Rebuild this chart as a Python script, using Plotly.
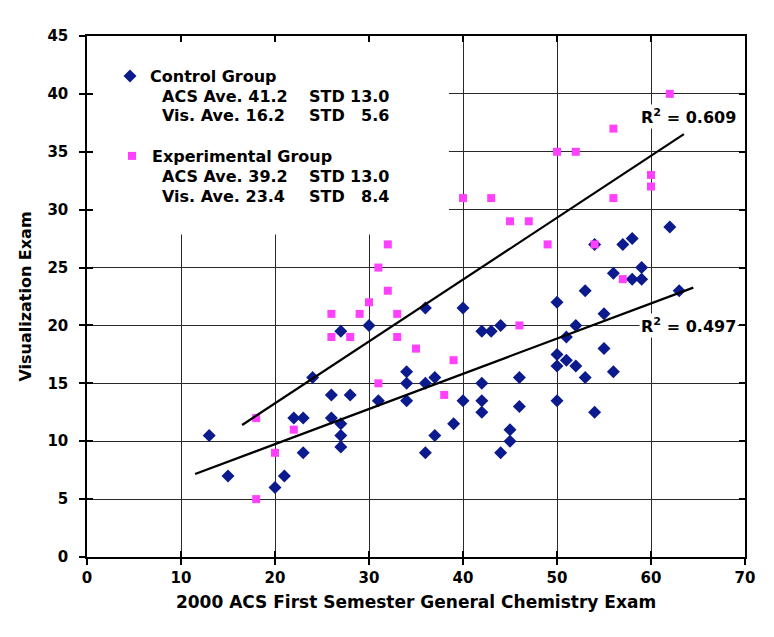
import numpy as np
import plotly.graph_objects as go

# ---------------- data ----------------
control_x = [13, 15, 20, 21, 22, 23, 23, 24, 26, 26, 27, 27, 27, 27, 28, 30, 31,
             34, 34, 34, 36, 36, 36, 37, 37, 39, 40, 40, 42, 42, 42, 42, 43, 44,
             44, 45, 45, 46, 46, 50, 50, 50, 50, 51, 51, 52, 52, 53, 53, 54, 54,
             55, 55, 56, 56, 57, 58, 58, 59, 59, 62, 63]
control_y = [10.5, 7, 6, 7, 12, 12, 9, 15.5, 14, 12, 19.5, 11.5, 10.5, 9.5, 14, 20, 13.5,
             16, 15, 13.5, 21.5, 15, 9, 15.5, 10.5, 11.5, 21.5, 13.5, 19.5, 15, 13.5, 12.5, 19.5, 20,
             9, 11, 10, 15.5, 13, 22, 17.5, 16.5, 13.5, 19, 17, 20, 16.5, 23, 15.5, 12.5, 27,
             21, 18, 24.5, 16, 27, 27.5, 24, 25, 24, 28.5, 23]

exp_x = [18, 18, 20, 22, 26, 26, 28, 29, 30, 31, 31, 32, 32, 33, 33, 35, 38,
         39, 40, 43, 45, 46, 47, 49, 50, 52, 54, 56, 56, 57, 60, 60, 62]
exp_y = [12, 5, 9, 11, 21, 19, 19, 21, 22, 25, 15, 27, 23, 21, 19, 18, 14,
         17, 31, 31, 29, 20, 29, 27, 35, 35, 27, 37, 31, 24, 33, 32, 40]

group_names = ["Control Group", "Experimental Group"]
ave_labels = [["ACS Ave. 41.2", "Vis. Ave. 16.2"], ["ACS Ave. 39.2", "Vis. Ave. 23.4"]]
std_values = [["13.0", "5.6"], ["13.0", "8.4"]]
r2_labels = ["0.497", "0.609"]

x_ticks = [0, 10, 20, 30, 40, 50, 60, 70]
y_ticks = [0, 5, 10, 15, 20, 25, 30, 35, 40, 45]

# ---------------- style ----------------
OFF = 8                      # page body margin of the browser
W, H = 758, 621              # figure size inside the page
ML, MT = 87 - OFF, 36 - OFF
PW, PH = 658, 521
MR, MB = W - ML - PW, H - MT - PH
FONT = "DejaVu Sans"
NAVY = "#0b1a8c"
PINK = "#ff40ff"
GRID = "#2a2a2a"


def px_x(p):
    # window pixel -> paper coordinate
    return (p - OFF - ML) / PW


def px_y(p):
    return (MT + PH - (p - OFF)) / PH


fig = go.Figure()

# scatter points
fig.add_trace(go.Scatter(
    x=control_x, y=control_y, mode="markers", name=group_names[0],
    marker=dict(symbol="diamond", size=10, color=NAVY, line=dict(width=0)),
    legend="legend"))
fig.add_trace(go.Scatter(
    x=exp_x, y=exp_y, mode="markers", name=group_names[1],
    marker=dict(symbol="square", size=8, color=PINK, line=dict(width=0)),
    legend="legend2"))

# linear trend lines
EXT = 1.5
for xs, ys in [(control_x, control_y), (exp_x, exp_y)]:
    m, b = np.polyfit(xs, ys, 1)
    tx = np.array([min(xs) - EXT, max(xs) + EXT])
    fig.add_trace(go.Scatter(x=tx, y=m * tx + b, mode="lines",
                             line=dict(color="black", width=2.2),
                             showlegend=False, hoverinfo="skip"))

# empty trace for the overlay (inside-tick) axes
fig.add_trace(go.Scatter(x=[], y=[], xaxis="x2", yaxis="y2", showlegend=False))

tickfont = dict(family=FONT, size=15, color="black", weight="bold")
axis_common = dict(showline=True, linecolor="black", linewidth=1.5, mirror=True,
                   ticks="outside", ticklen=6, tickwidth=1.5, tickcolor="black",
                   showgrid=True, gridcolor=GRID, gridwidth=1.3, zeroline=False,
                   tickfont=tickfont, automargin=False)

fig.update_layout(
    width=W, height=H,
    margin=dict(l=ML, r=MR, t=MT, b=MB, autoexpand=False),
    paper_bgcolor="white", plot_bgcolor="white",
    xaxis=dict(range=[0, 70], tickvals=x_ticks, **axis_common,
               title=dict(text="2000 ACS First Semester General Chemistry Exam",
                          font=dict(family=FONT, size=17, color="black", weight="bold"),
                          standoff=10)),
    yaxis=dict(range=[0, 45], tickvals=y_ticks, **axis_common, ticklabelstandoff=8,
               title=dict(text="Visualization Exam",
                          font=dict(family=FONT, size=16, color="black", weight="bold"),
                          standoff=12)),
    xaxis2=dict(overlaying="x", matches="x", range=[0, 70], tickvals=x_ticks,
                ticks="inside", ticklen=6, tickwidth=1.5, tickcolor="black",
                mirror="ticks", showline=False, showgrid=False, zeroline=False,
                showticklabels=False),
    yaxis2=dict(overlaying="y", matches="y", range=[0, 45], tickvals=y_ticks,
                ticks="inside", ticklen=6, tickwidth=1.5, tickcolor="black",
                mirror="ticks", showline=False, showgrid=False, zeroline=False,
                showticklabels=False),
    legend=dict(x=px_x(110), y=px_y(76), xanchor="left", yanchor="middle",
                bgcolor="rgba(0,0,0,0)", borderwidth=0,
                font=dict(family=FONT, size=16, color="black", weight="bold")),
    legend2=dict(x=px_x(112), y=px_y(156), xanchor="left", yanchor="middle",
                 bgcolor="rgba(0,0,0,0)", borderwidth=0,
                 font=dict(family=FONT, size=16, color="black", weight="bold")),
    showlegend=True,
)

# white legend panel hiding the grid
fig.add_shape(type="rect", xref="x", yref="y", x0=0, x1=38.5, y0=27.85, y1=45,
              fillcolor="white", line=dict(width=0), layer="between")

# faint outer border at the left edge of the picture
fig.add_shape(type="line", xref="paper", yref="paper",
              x0=px_x(7), x1=px_x(7), y0=px_y(637), y1=px_y(8),
              line=dict(color="#c8c8c8", width=1))

# statistics text
lfont = dict(family=FONT, size=16, color="black", weight="bold")
rows_y = [[96.7, 115.7], [176.7, 196.7]]
for g in range(2):
    for r in range(2):
        yy = px_y(rows_y[g][r])
        fig.add_annotation(xref="paper", yref="paper", x=px_x(160), y=yy,
                           text=ave_labels[g][r], showarrow=False,
                           xanchor="left", yanchor="middle", font=lfont)
        fig.add_annotation(xref="paper", yref="paper", x=px_x(307), y=yy,
                           text="STD", showarrow=False,
                           xanchor="left", yanchor="middle", font=lfont)
        fig.add_annotation(xref="paper", yref="paper", x=px_x(391), y=yy,
                           text=std_values[g][r], showarrow=False,
                           xanchor="right", yanchor="middle", font=lfont)

# R^2 labels
r2_pos = [(69.3, 20.03), (69.3, 38.03)]
for lab, (ax, ay) in zip(r2_labels, r2_pos):
    fig.add_annotation(x=ax, y=ay, xref="x", yref="y",
                       text="R<sup>2</sup> = " + lab, showarrow=False,
                       xanchor="right", yanchor="middle", bgcolor="white",
                       font=dict(family=FONT, size=16, color="black", weight="bold"))

fig.write_html("out.html")
